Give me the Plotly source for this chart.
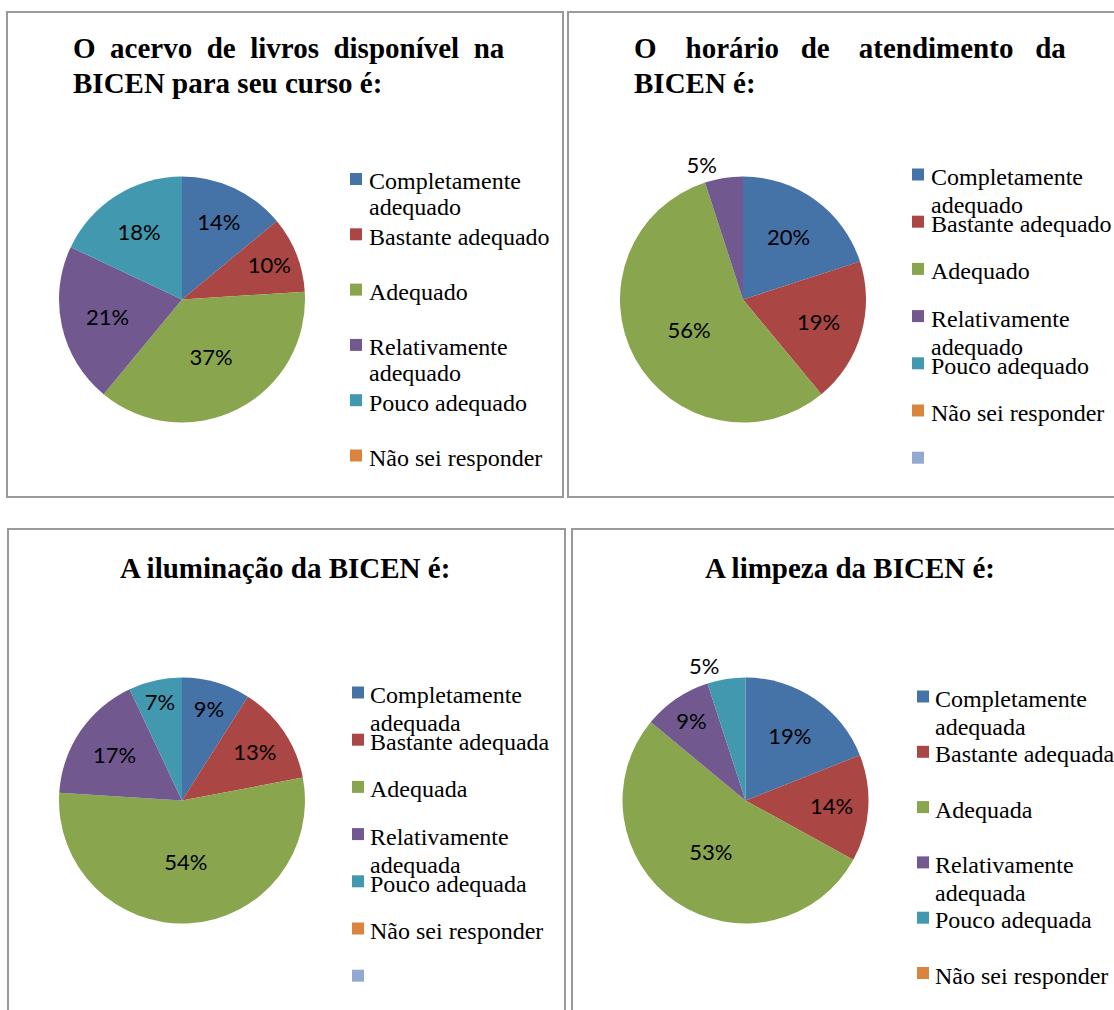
import plotly.graph_objects as go

W, H = 1114, 1010

# ---------------- data ----------------
labels_o = ["Completamente adequado", "Bastante adequado", "Adequado",
            "Relativamente adequado", "Pouco adequado", "Não sei responder"]
labels_a = ["Completamente adequada", "Bastante adequada", "Adequada",
            "Relativamente adequada", "Pouco adequada", "Não sei responder"]
legend_o = ["Completamente<br>adequado", "Bastante adequado", "Adequado",
            "Relativamente<br>adequado", "Pouco adequado", "Não sei responder"]
legend_a = ["Completamente<br>adequada", "Bastante adequada", "Adequada",
            "Relativamente<br>adequada", "Pouco adequada", "Não sei responder"]

acervo = [14, 10, 37, 21, 18, 0]
horario = [20, 19, 56, 5, 0, 0, 0]
iluminacao = [9, 13, 54, 17, 7, 0, 0]
limpeza = [19, 14, 53, 9, 5, 0]

NB = "\u00a0"
titles = [
    ["O" + NB * 2 + "acervo" + NB * 2 + "de" + NB * 2 + "livros" + NB * 2 + "disponível" + NB * 2 + "na",
     "BICEN para seu curso é:"],
    ["O" + NB * 4 + "horário" + NB * 3 + "de" + NB * 4 + "atendimento" + NB * 3 + "da",
     "BICEN é:"],
    ["A iluminação da BICEN é:"],
    ["A limpeza da BICEN é:"],
]

colors = ["#4572A7", "#AA4643", "#89A54E", "#71588F", "#4198AF", "#DB843D", "#93A9CF"]

# ---------------- layout constants (pixels) ----------------
R = 123
panels = [
    dict(vals=acervo, lab=labels_o, leg=legend_o, c=(182, 299.5),
         lg=(350, 367, 181.5, 55.3, 25.5), title=(71, 48, "left"), box=(7, 12, 563, 497)),
    dict(vals=horario, lab=labels_o + [" "], leg=legend_o + [""], c=(743, 299.5),
         lg=(912, 929, 177, 47.2, 28), title=(632, 48, "left"), box=(568, 12, 1116, 497)),
    dict(vals=iluminacao, lab=labels_a + [" "], leg=legend_a + [""], c=(182, 800.5),
         lg=(352, 368, 695, 47.2, 28), title=(285, 568, "center"), box=(8, 529, 565, 1016)),
    dict(vals=limpeza, lab=labels_a, leg=legend_a, c=(745.5, 800.5),
         lg=(917, 933, 699, 55.3, 28), title=(850, 568, "center"), box=(572, 529, 1116, 1016)),
]
TITLE_LS = 35
SERIF = "Liberation Serif"


def fx(x):
    return x / W


def fy(y):
    return 1 - y / H


fig = go.Figure()
shapes = []
annotations = []

for k, p in enumerate(panels):
    vals = p["vals"]
    n = len(vals)
    cx, cy = p["c"]
    pos = ["outside" if 0 < v <= 5 else "inside" for v in vals]
    tmpl = ["%{value}%" if v > 0 else "" for v in vals]
    fig.add_trace(go.Pie(
        values=vals, labels=p["lab"], sort=False, direction="clockwise", rotation=0,
        marker=dict(colors=colors[:n], line=dict(width=0)),
        texttemplate=tmpl, textposition=pos, insidetextorientation="horizontal",
        textfont=dict(family="Lato", size=22, color="#000000"),
        hole=0, showlegend=False, hoverinfo="label+percent",
        domain=dict(x=[fx(cx - R), fx(cx + R)], y=[fy(cy + R), fy(cy - R)]),
    ))
    # panel border
    x0, y0, x1, y1 = p["box"]
    shapes.append(dict(type="rect", xref="paper", yref="paper",
                       x0=fx(x0), x1=fx(x1), y0=fy(y1), y1=fy(y0),
                       line=dict(color="#9A9A9A", width=2)))
    # title (one annotation per line)
    tx, ty, al = p["title"]
    for j, line in enumerate(titles[k]):
        annotations.append(dict(text="<b>" + line + "</b>", xref="paper", yref="paper",
                                x=fx(tx), y=fy(ty + j * TITLE_LS), xanchor=al, yanchor="middle",
                                showarrow=False,
                                font=dict(family=SERIF, size=29, color="#000000")))
    # legend
    mx, txx, ly, step, ls = p["lg"]
    for i, lab in enumerate(p["leg"]):
        yy = ly + i * step
        shapes.append(dict(type="rect", xref="paper", yref="paper",
                           x0=fx(mx), x1=fx(mx + 12), y0=fy(yy + 3.5), y1=fy(yy - 8.5),
                           fillcolor=colors[i], line=dict(width=0)))
        if lab:
            for j, part in enumerate(lab.split("<br>")):
                annotations.append(dict(text=part, xref="paper", yref="paper",
                                        x=fx(txx), y=fy(yy + j * ls), xanchor="left",
                                        yanchor="middle", showarrow=False,
                                        font=dict(family=SERIF, size=24, color="#000000")))

fig.update_layout(
    width=W, height=H, margin=dict(l=0, r=0, t=0, b=0),
    paper_bgcolor="white", plot_bgcolor="white",
    shapes=shapes, annotations=annotations,
    uniformtext=dict(minsize=22, mode="show"),
)

fig.write_html("out.html", config={"displayModeBar": False},
               post_script="document.body.style.margin='0px';")
